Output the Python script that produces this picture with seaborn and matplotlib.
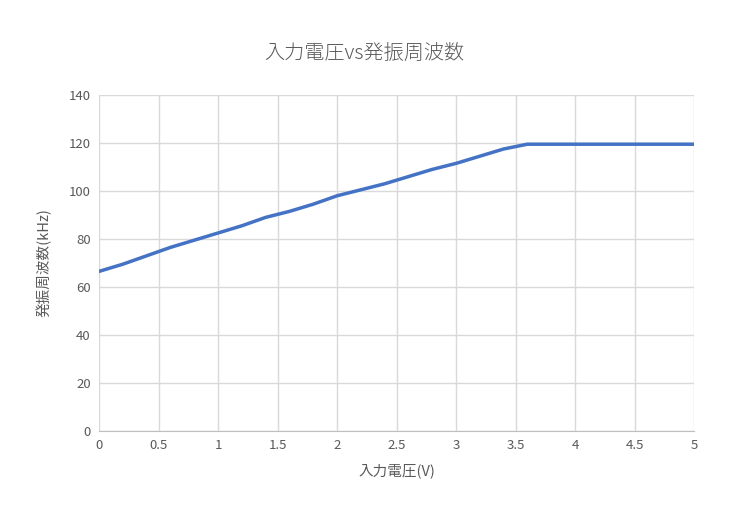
import matplotlib
matplotlib.use('Agg')
import matplotlib.pyplot as plt
import seaborn as sns
import pandas as pd

voltage = [0.0, 0.2, 0.4, 0.6, 0.8, 1.0, 1.2, 1.4, 1.6, 1.8, 2.0, 2.2, 2.4, 2.6, 2.8,
           3.0, 3.2, 3.4, 3.6, 3.8, 4.0, 4.2, 4.4, 4.6, 4.8, 5.0]
freq = [66.5, 69.5, 73, 76.5, 79.5, 82.5, 85.5, 89, 91.5, 94.5, 98, 100.5, 103, 106, 109,
        111.5, 114.5, 117.5, 119.5, 119.5, 119.5, 119.5, 119.5, 119.5, 119.5, 119.5]
df = pd.DataFrame({'v': voltage, 'f': freq})

sns.set_style('white')
plt.rcParams['font.family'] = ['Noto Sans CJK JP', 'DejaVu Sans']

fig = plt.figure(figsize=(7.29, 5.21), dpi=100)
ax = fig.add_axes([99/729, 1-431/521, 595/729, 336/521])
sns.lineplot(data=df, x='v', y='f', ax=ax, color='#4472C4', linewidth=2.5)

ax.set_xlim(0, 5)
ax.set_ylim(0, 140)
ax.set_xticks([0, 0.5, 1, 1.5, 2, 2.5, 3, 3.5, 4, 4.5, 5])
ax.set_xticklabels(['0', '0.5', '1', '1.5', '2', '2.5', '3', '3.5', '4', '4.5', '5'])
ax.set_yticks(range(0, 141, 20))
ax.grid(True, color='#D9D9D9', linewidth=1)
for s in ['top', 'right', 'left']:
    ax.spines[s].set_visible(False)
ax.spines['bottom'].set_color('#BFBFBF')
ax.tick_params(axis='both', length=0, labelsize=9.5, colors='#595959', pad=6)
ax.set_xlabel('入力電圧(V)', fontsize=10.5, color='#595959', labelpad=8)
ax.set_ylabel('発振周波数(kHz)', fontsize=10.5, color='#595959', labelpad=12)
fig.text(0.5, 1-53/521, '入力電圧vs発振周波数', ha='center', va='center', fontsize=14.5,
         color='#595959', fontweight='light')

plt.savefig('out.png', dpi=100)
